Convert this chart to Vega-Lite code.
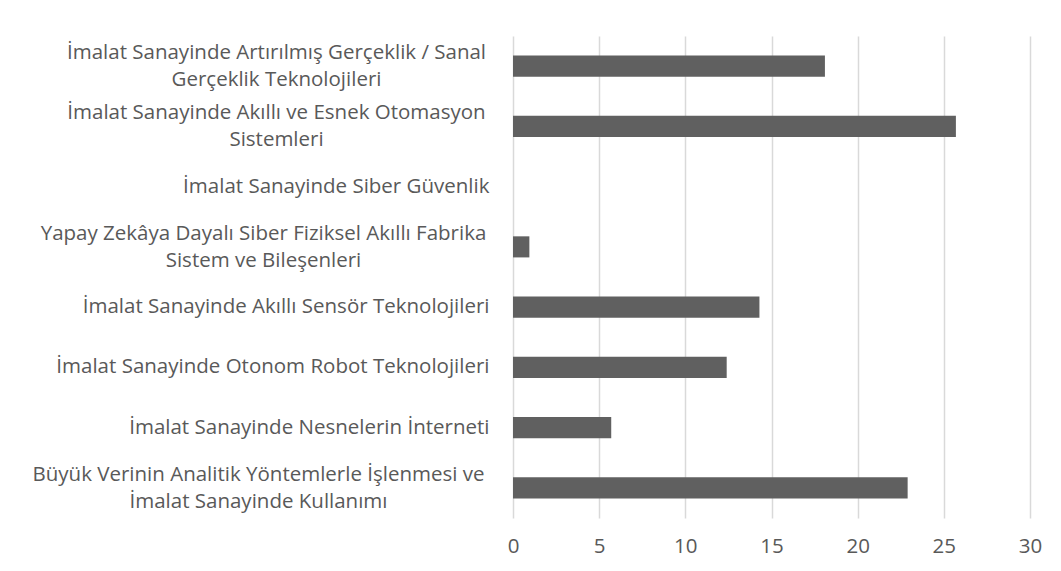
{
  "$schema": "https://vega.github.io/schema/vega-lite/v6.json",
  "width": 517,
  "height": 482,
  "autosize": "none",
  "padding": {"left": 513, "top": 36, "right": 31, "bottom": 53},
  "background": "#ffffff",
  "config": {
    "view": {"stroke": null},
    "font": "Open Sans",
    "axis": {"labelFont": "Open Sans", "labelColor": "#595959", "labelFontSize": 20.5}
  },
  "data": {
    "values": [
      {"kategori": "İmalat Sanayinde Artırılmış Gerçeklik / Sanal|Gerçeklik Teknolojileri", "deger": 18.1},
      {"kategori": "İmalat Sanayinde Akıllı ve Esnek Otomasyon|Sistemleri", "deger": 25.7},
      {"kategori": "İmalat Sanayinde Siber Güvenlik", "deger": 0},
      {"kategori": "Yapay Zekâya Dayalı Siber Fiziksel Akıllı Fabrika|Sistem ve Bileşenleri", "deger": 0.95},
      {"kategori": "İmalat Sanayinde Akıllı Sensör Teknolojileri", "deger": 14.3},
      {"kategori": "İmalat Sanayinde Otonom Robot Teknolojileri", "deger": 12.4},
      {"kategori": "İmalat Sanayinde Nesnelerin İnterneti", "deger": 5.7},
      {"kategori": "Büyük Verinin Analitik Yöntemlerle İşlenmesi ve|İmalat Sanayinde Kullanımı", "deger": 22.9}
    ]
  },
  "mark": {"type": "bar", "color": "#606060"},
  "encoding": {
    "y": {
      "field": "kategori",
      "type": "nominal",
      "sort": null,
      "scale": {"paddingInner": 0.65, "paddingOuter": 0.325},
      "axis": {
        "title": null,
        "domain": false,
        "ticks": false,
        "labelLimit": 0,
        "labelLineHeight": 27,
        "labelExpr": "split(datum.label, '|')",
        "labelAlign": {"condition": {"test": "indexof(datum.value, '|') >= 0", "value": "center"}, "value": "right"},
        "labelOffset": {"condition": {"test": "indexof(datum.value, '|') >= 0", "value": -13}, "value": 0},
        "labelPadding": {
          "condition": [
            {"test": "indexof(datum.value, 'Artırılmış') >= 0", "value": 237},
            {"test": "indexof(datum.value, 'Esnek') >= 0", "value": 237},
            {"test": "indexof(datum.value, 'Yapay') >= 0", "value": 250},
            {"test": "indexof(datum.value, 'Büyük') >= 0", "value": 255}
          ],
          "value": 24
        }
      }
    },
    "x": {
      "field": "deger",
      "type": "quantitative",
      "scale": {"domain": [0, 30]},
      "axis": {
        "title": null,
        "values": [0, 5, 10, 15, 20, 25, 30],
        "domain": false,
        "ticks": false,
        "grid": true,
        "gridColor": "#d9d9d9",
        "gridWidth": 1.5,
        "labelPadding": 18,
        "labelFlush": false
      }
    }
  }
}
